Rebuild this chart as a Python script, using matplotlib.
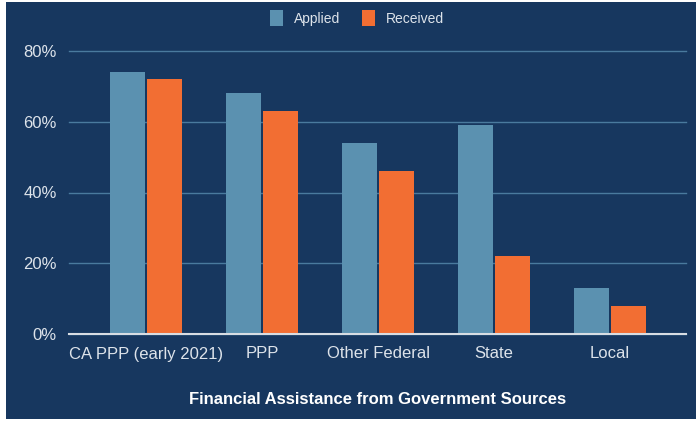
import matplotlib
matplotlib.use("Agg")
import matplotlib.pyplot as plt
import numpy as np
from matplotlib.patches import Rectangle

categories = ["CA PPP (early 2021)", "PPP", "Other Federal", "State", "Local"]
applied = [74, 68, 54, 59, 13]
received = [72, 63, 46, 22, 8]
yticks = [0, 20, 40, 60, 80]
ytick_labels = ["0%", "20%", "40%", "60%", "80%"]

NAVY = "#17375f"
BLUE = "#5b91b0"
ORANGE = "#f26e33"
GRID = "#4a7a9e"
TXT = "#dde3ea"

plt.rcParams['font.family'] = ['Liberation Sans', 'DejaVu Sans']

fig = plt.figure(figsize=(7, 4.21), dpi=100, facecolor="white")
fig.patches.append(Rectangle((6/700, 2/421), 690/700, 417/421, transform=fig.transFigure,
                             facecolor=NAVY, edgecolor="none", zorder=-10))
ax = fig.add_axes([69/700, 1-334/421, 617/700, 283/421])
ax.set_facecolor("none")

x = np.arange(len(categories))
w = 0.305
off = 0.16
b1 = ax.bar(x - off, applied, w, color=BLUE, label="Applied", zorder=3)
b2 = ax.bar(x + off, received, w, color=ORANGE, label="Received", zorder=3)

ax.set_xlim(-0.664, 4.655)
ax.set_ylim(0, 80)
ax.set_yticks(yticks)
ax.set_yticklabels(ytick_labels)
ax.yaxis.grid(True, color=GRID, linewidth=1)
for gl in ax.get_ygridlines():
    gl.set_clip_on(False)
ax.set_axisbelow(True)
for s in ["top", "right", "left"]:
    ax.spines[s].set_visible(False)
ax.spines["bottom"].set_color("#d8dde3")
ax.spines["bottom"].set_linewidth(1.5)
ax.spines["bottom"].set_zorder(4)
ax.tick_params(axis="both", length=0, colors=TXT, labelsize=12)
ax.tick_params(axis="y", pad=9)
ax.tick_params(axis="x", pad=9)
ax.set_xticks(x)
ax.set_xticklabels(categories)

ax.set_xlabel("Financial Assistance from Government Sources", color="white",
              fontsize=12, fontweight="bold", labelpad=22)

leg = fig.legend(handles=[b1, b2], labels=["Applied", "Received"], loc="center",
                 bbox_to_anchor=(357/700, 1-18/421), ncol=2, frameon=False,
                 fontsize=10, labelcolor=TXT, handlelength=0.95, handleheight=1.3,
                 columnspacing=1.6, handletextpad=0.75)

fig.savefig("out.png", dpi=100, facecolor="white")
